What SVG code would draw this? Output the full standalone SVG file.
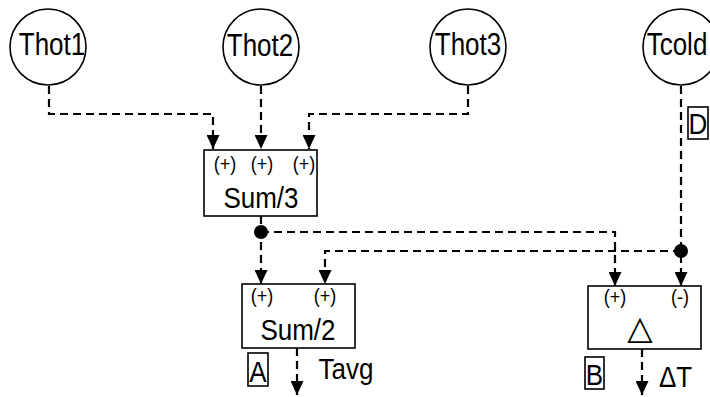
<svg xmlns="http://www.w3.org/2000/svg" width="710" height="397" viewBox="0 0 710 397">
<style>
.node{fill:#fff;stroke:#000;stroke-width:1.6}
.lbl{font-family:"Liberation Sans",Arial,sans-serif;fill:#000;text-anchor:middle}
.big{font-size:26px}
.sm{font-size:18px}
.tag{fill:#fff;stroke:#000;stroke-width:1.6}
.conn{fill:none;stroke:#000;stroke-width:2.2;stroke-dasharray:8,5}
</style>
<defs>
<marker id="arr" markerUnits="userSpaceOnUse" markerWidth="14" markerHeight="13" refX="14" refY="6.5" orient="auto">
<path d="M0,0 L14,6.5 L0,13 z" fill="#000"/>
</marker>
</defs>
<g id="Thot1"><circle class="node" cx="48" cy="47" r="38"/><text class="lbl big" transform="translate(52,55) scale(1,1.18)">Thot1</text></g>
<g id="Thot2"><circle class="node" cx="261" cy="47" r="38"/><text class="lbl big" transform="translate(260,56) scale(1,1.18)">Thot2</text></g>
<g id="Thot3"><circle class="node" cx="468" cy="47" r="38"/><text class="lbl big" transform="translate(468,55) scale(1,1.18)">Thot3</text></g>
<g id="Tcold"><circle class="node" cx="681" cy="47" r="38"/><text class="lbl big" transform="translate(677,55) scale(1,1.18)">Tcold</text></g>
<g id="Sum3"><rect class="node" x="204" y="150" width="113" height="66"/>
<text class="lbl sm" transform="translate(225,171) scale(1,1.15)">(+)</text><text class="lbl sm" transform="translate(262,171) scale(1,1.15)">(+)</text><text class="lbl sm" transform="translate(304,171) scale(1,1.15)">(+)</text>
<text class="lbl big" transform="translate(261,208) scale(1,1.15)">Sum/3</text></g>
<g id="Sum2"><rect class="node" x="242" y="284" width="113" height="64"/>
<text class="lbl sm" transform="translate(262,303) scale(1,1.15)">(+)</text><text class="lbl sm" transform="translate(325,303) scale(1,1.15)">(+)</text>
<text class="lbl big" transform="translate(298,340) scale(1,1.15)">Sum/2</text></g>
<g id="Delta"><rect class="node" x="588" y="286" width="113" height="63"/>
<text class="lbl sm" transform="translate(615,304) scale(1,1.15)">(+)</text><text class="lbl sm" transform="translate(680,304) scale(1,1.15)">(-)</text>
<text x="640" y="339" style="font-family:'DejaVu Sans',sans-serif;font-size:33px;text-anchor:middle">△</text></g>
<g id="connectors">
<path class="conn" d="M49,86 V114 H213 V149" marker-end="url(#arr)"/>
<path class="conn" d="M261,86 V149" marker-end="url(#arr)"/>
<path class="conn" d="M468,86 V114 H309 V149" marker-end="url(#arr)"/>
<path class="conn" d="M261,216 V232 V284" marker-end="url(#arr)"/>
<path class="conn" d="M261,232 H615 V286" marker-end="url(#arr)"/>
<path class="conn" d="M681,86 V251 V286" marker-end="url(#arr)"/>
<path class="conn" d="M681,251 H325 V284" marker-end="url(#arr)"/>
<path class="conn" d="M297,348 V395" marker-end="url(#arr)"/>
<path class="conn" d="M642,349 V395" marker-end="url(#arr)"/>
<circle cx="261" cy="232" r="7" fill="#000"/>
<circle cx="681" cy="251" r="7" fill="#000"/>
</g>
<g id="labels">
<rect class="tag" x="248" y="353" width="20" height="33"/><text class="lbl big" transform="translate(258,382) scale(1,1.15)">A</text>
<rect class="tag" x="585" y="357" width="19" height="32"/><text class="lbl big" transform="translate(594.5,385) scale(1,1.15)">B</text>
<rect class="tag" x="688" y="107" width="20" height="32"/><text class="lbl big" transform="translate(698,134) scale(1,1.15)">D</text>
<text class="lbl big" transform="translate(346,379) scale(1,1.15)">Tavg</text>
<text class="lbl big" transform="translate(659,387) scale(1,1.15)" style="text-anchor:start">ΔT</text>
</g>
</svg>
